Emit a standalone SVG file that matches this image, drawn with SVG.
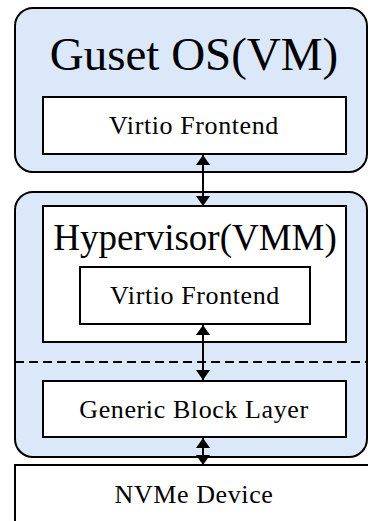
<svg xmlns="http://www.w3.org/2000/svg" width="368" height="521" viewBox="0 0 368 521">
<defs>
<marker id="ah" viewBox="0 0 10 14" refX="10" refY="7" markerWidth="10" markerHeight="14" markerUnits="userSpaceOnUse" orient="auto-start-reverse">
<path d="M0,0 L10,7 L0,14 Z" fill="#000"/>
</marker>
<style>
.grp{fill:#dae8fa;stroke:#000;stroke-width:2}
.box{fill:#fff;stroke:#000;stroke-width:2}
.big{font-family:"Liberation Serif","Times New Roman",serif;text-anchor:middle;fill:#000}
.sm{font-family:"Liberation Serif","Times New Roman",serif;font-size:26px;letter-spacing:0.6px;text-anchor:middle;fill:#000}
.con{stroke:#000;stroke-width:2;fill:none}
</style>
</defs>
<rect x="0" y="0" width="368" height="521" fill="#fff"/>
<g id="guest">
<rect class="grp" x="15" y="8" width="352" height="164" rx="18"/>
<text class="big" x="194" y="70" font-size="47">Guset OS(VM)</text>
</g>
<g id="guest-virtio">
<rect class="box" x="43" y="97" width="303" height="57"/>
<text class="sm" x="194" y="134">Virtio Frontend</text>
</g>
<g id="host">
<rect class="grp" x="15" y="192" width="352" height="265" rx="18"/>
<line x1="15" y1="362" x2="368" y2="362" stroke="#000" stroke-width="2" stroke-dasharray="9,5"/>
</g>
<g id="hypervisor">
<rect class="box" x="43" y="206" width="303" height="136"/>
<text class="big" x="195" y="250" font-size="37">Hypervisor(VMM)</text>
</g>
<g id="hv-virtio">
<rect class="box" x="80" y="267" width="230" height="57"/>
<text class="sm" x="195" y="304">Virtio Frontend</text>
</g>
<g id="block">
<rect class="box" x="43" y="381" width="303" height="56"/>
<text class="sm" x="194" y="418">Generic Block Layer</text>
</g>
<g id="nvme">
<rect class="box" x="15" y="465" width="370" height="80"/>
<text class="sm" x="194" y="503">NVMe Device</text>
</g>
<g id="connectors">
<line class="con" x1="203" y1="155" x2="203" y2="206" marker-start="url(#ah)" marker-end="url(#ah)"/>
<line class="con" x1="203" y1="325" x2="203" y2="380" marker-start="url(#ah)" marker-end="url(#ah)"/>
<line class="con" x1="203" y1="438" x2="203" y2="465" marker-start="url(#ah)" marker-end="url(#ah)"/>
</g>
</svg>
